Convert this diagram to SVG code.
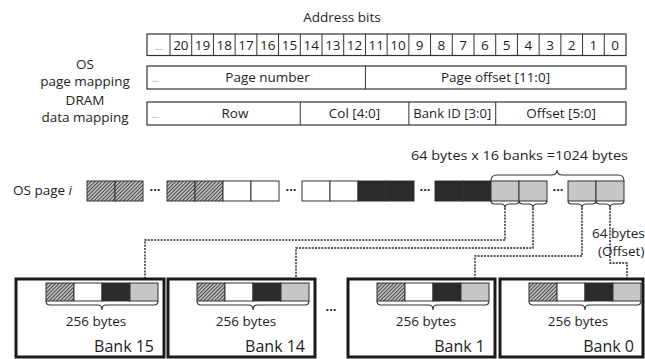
<svg xmlns="http://www.w3.org/2000/svg" width="645" height="359" viewBox="0 0 645 359">
<defs>
  <pattern id="hatch" patternUnits="userSpaceOnUse" width="2.6" height="2.6" patternTransform="rotate(45)">
    <rect width="2.6" height="2.6" fill="#bdbdbd"/>
    <line x1="0" y1="0" x2="0" y2="2.6" stroke="#1e1e1e" stroke-width="1.4"/>
  </pattern>
  <marker id="arr" viewBox="0 0 6 6" refX="3" refY="5" markerWidth="6" markerHeight="6" orient="auto-start-reverse" markerUnits="userSpaceOnUse">
    <path d="M0,0 L6,0 L3,6 Z" fill="#111"/>
  </marker>
  <style>
    text { font-family: "Open Sans", "Noto Sans", "DejaVu Sans", sans-serif; fill: #1e1e1e; }
    .t13 { font-size: 13.5px; }
    .mid { text-anchor: middle; }
    .end { text-anchor: end; }
    .box { fill: #fff; stroke: #333; stroke-width: 1.2; }
    .cell { stroke: #333; stroke-width: 1; }
    .h { fill: url(#hatch); }
    .w { fill: #fff; }
    .d { fill: #2b2b2b; }
    .g { fill: #c6c6c6; }
    .brace { fill: none; stroke: #333; stroke-width: 1.1; }
    .bank { fill: #fff; stroke: #1a1a1a; stroke-width: 3; }
    .dash { fill: none; stroke: #1e1e1e; stroke-width: 1.4; stroke-dasharray: 2 1.2; }
    .dots { font-size: 13px; font-weight: bold; }
    .small { font-size: 9px; fill: #777; }
    .bk { font-size: 16px; }
  </style>
</defs>

<g id="address-bits">
  <text class="t13 mid" x="342" y="22">Address bits</text>
  <rect class="box" x="147" y="34" width="479" height="21.5"/>
  <path class="cell" fill="none" d="M170,34V55.5 M191.71,34V55.5 M213.43,34V55.5 M235.14,34V55.5 M256.86,34V55.5 M278.57,34V55.5 M300.29,34V55.5 M322,34V55.5 M343.71,34V55.5 M365.43,34V55.5 M387.14,34V55.5 M408.86,34V55.5 M430.57,34V55.5 M452.29,34V55.5 M474,34V55.5 M495.71,34V55.5 M517.43,34V55.5 M539.14,34V55.5 M560.86,34V55.5 M582.57,34V55.5 M604.29,34V55.5"/>
  <g class="t13 mid">
    <text x="158.5" y="49.5" class="small">...</text>
    <text x="180.86" y="50">20</text>
    <text x="202.57" y="50">19</text>
    <text x="224.29" y="50">18</text>
    <text x="246" y="50">17</text>
    <text x="267.71" y="50">16</text>
    <text x="289.43" y="50">15</text>
    <text x="311.14" y="50">14</text>
    <text x="332.86" y="50">13</text>
    <text x="354.57" y="50">12</text>
    <text x="376.29" y="50">11</text>
    <text x="398" y="50">10</text>
    <text x="419.71" y="50">9</text>
    <text x="441.43" y="50">8</text>
    <text x="463.14" y="50">7</text>
    <text x="484.86" y="50">6</text>
    <text x="506.57" y="50">5</text>
    <text x="528.29" y="50">4</text>
    <text x="550" y="50">3</text>
    <text x="571.71" y="50">2</text>
    <text x="593.43" y="50">1</text>
    <text x="615.14" y="50">0</text>
  </g>
</g>

<g id="os-page-mapping">
  <text class="t13 mid" x="85" y="69">OS</text>
  <text class="t13 mid" x="85" y="86">page mapping</text>
  <rect class="box" x="147" y="66" width="479" height="23"/>
  <path class="cell" d="M365.43,66V89"/>
  <text class="small" x="152" y="82">...</text>
  <text class="t13 mid" x="267.5" y="82">Page number</text>
  <text class="t13 mid" x="495.5" y="82">Page offset [11:0]</text>
</g>

<g id="dram-data-mapping">
  <text class="t13 mid" x="85" y="105">DRAM</text>
  <text class="t13 mid" x="85" y="122">data mapping</text>
  <rect class="box" x="147" y="102" width="479" height="23"/>
  <path class="cell" d="M300.29,102V125 M408.86,102V125 M495.71,102V125"/>
  <text class="small" x="152" y="118">...</text>
  <text class="t13 mid" x="235" y="118">Row</text>
  <text class="t13 mid" x="354.5" y="118">Col [4:0]</text>
  <text class="t13 mid" x="452.3" y="118" textLength="78" lengthAdjust="spacingAndGlyphs">Bank ID [3:0]</text>
  <text class="t13 mid" x="561" y="118">Offset [5:0]</text>
</g>

<g id="os-page">
  <text class="t13" x="13" y="195">OS page <tspan font-style="italic">i</tspan></text>
  <g class="cell">
    <rect class="h" x="87" y="181" width="28" height="20"/>
    <rect class="h" x="115" y="181" width="28" height="20"/>
    <rect class="h" x="167" y="181" width="28" height="20"/>
    <rect class="h" x="195" y="181" width="28" height="20"/>
    <rect class="w" x="223" y="181" width="28" height="20"/>
    <rect class="w" x="251" y="181" width="28" height="20"/>
    <rect class="w" x="302" y="181" width="28" height="20"/>
    <rect class="w" x="330" y="181" width="28" height="20"/>
    <rect class="d" x="358" y="181" width="28" height="20"/>
    <rect class="d" x="386" y="181" width="28" height="20"/>
    <rect class="d" x="435" y="181" width="28" height="20"/>
    <rect class="d" x="463" y="181" width="28" height="20"/>
    <rect class="g" x="491" y="181" width="28" height="20"/>
    <rect class="g" x="519" y="181" width="28" height="20"/>
    <rect class="g" x="568" y="181" width="28" height="20"/>
    <rect class="g" x="596" y="181" width="28" height="20"/>
  </g>
  <g class="dots mid">
    <text x="155" y="194">···</text>
    <text x="291" y="194">···</text>
    <text x="425" y="194">···</text>
    <text x="558" y="194">···</text>
  </g>
  <text class="t13 mid" x="519.5" y="160" textLength="217" lengthAdjust="spacingAndGlyphs">64 bytes x 16 banks =1024 bytes</text>
  <path class="brace" d="M491,181 Q491,175 497,175 L551,175 Q557,175 557,170 Q557,175 563,175 L618,175 Q624,175 624,181"/>
  <path class="brace" d="M491,201 Q491,204 495,204 L501,204 Q505,204 505,208 Q505,204 509,204 L515,204 Q519,204 519,201"/>
  <path class="brace" d="M519,201 Q519,204 523,204 L529,204 Q533,204 533,208 Q533,204 537,204 L543,204 Q547,204 547,201"/>
  <path class="brace" d="M568,201 Q568,204 572,204 L578,204 Q582,204 582,208 Q582,204 586,204 L592,204 Q596,204 596,201"/>
  <path class="brace" d="M596,201 Q596,204 600,204 L606,204 Q610,204 610,208 Q610,204 614,204 L620,204 Q624,204 624,201"/>
  <text class="t13" x="592" y="238">64 bytes</text>
  <text class="t13" x="598" y="256">(Offset)</text>
</g>

<g id="connectors">
  <path class="dash" d="M505,208 V240 H145 V281" marker-end="url(#arr)"/>
  <path class="dash" d="M533,208 V248 H296 V281" marker-end="url(#arr)"/>
  <path class="dash" d="M582,208 V256 H475 V281" marker-end="url(#arr)"/>
  <path class="dash" d="M610,208 V263 H627 V281" marker-end="url(#arr)"/>
</g>

<g id="bank15">
  <rect class="bank" x="16" y="279" width="148" height="78"/>
  <g class="cell">
    <rect class="h" x="46" y="283" width="28" height="18"/>
    <rect class="w" x="74" y="283" width="28" height="18"/>
    <rect class="d" x="102" y="283" width="28" height="18"/>
    <rect class="g" x="130" y="283" width="28" height="18"/>
  </g>
  <path class="brace" d="M46,301 Q46,305 50,305 L98,305 Q102,305 102,310 Q102,305 106,305 L154,305 Q158,305 158,301"/>
  <text class="t13 mid" x="96" y="326">256 bytes</text>
  <text class="end bk" x="154" y="352">Bank 15</text>
</g>

<g id="bank14">
  <rect class="bank" x="168" y="279" width="147" height="78"/>
  <g class="cell">
    <rect class="h" x="197" y="283" width="28" height="18"/>
    <rect class="w" x="225" y="283" width="28" height="18"/>
    <rect class="d" x="253" y="283" width="28" height="18"/>
    <rect class="g" x="281" y="283" width="28" height="18"/>
  </g>
  <path class="brace" d="M197,301 Q197,305 201,305 L249,305 Q253,305 253,310 Q253,305 257,305 L305,305 Q309,305 309,301"/>
  <text class="t13 mid" x="246" y="326">256 bytes</text>
  <text class="end bk" x="305" y="352">Bank 14</text>
</g>

<text class="dots mid" x="331" y="314">···</text>

<g id="bank1">
  <rect class="bank" x="348" y="279" width="147" height="78"/>
  <g class="cell">
    <rect class="h" x="377" y="283" width="28" height="18"/>
    <rect class="w" x="405" y="283" width="28" height="18"/>
    <rect class="d" x="433" y="283" width="28" height="18"/>
    <rect class="g" x="461" y="283" width="28" height="18"/>
  </g>
  <path class="brace" d="M377,301 Q377,305 381,305 L429,305 Q433,305 433,310 Q433,305 437,305 L485,305 Q489,305 489,301"/>
  <text class="t13 mid" x="426" y="326">256 bytes</text>
  <text class="end bk" x="485" y="352">Bank 1</text>
</g>

<g id="bank0">
  <rect class="bank" x="500" y="279" width="143" height="78"/>
  <g class="cell">
    <rect class="h" x="529" y="283" width="28" height="18"/>
    <rect class="w" x="557" y="283" width="28" height="18"/>
    <rect class="d" x="585" y="283" width="28" height="18"/>
    <rect class="g" x="613" y="283" width="28" height="18"/>
  </g>
  <path class="brace" d="M529,301 Q529,305 533,305 L581,305 Q585,305 585,310 Q585,305 589,305 L637,305 Q641,305 641,301"/>
  <text class="t13 mid" x="578" y="326">256 bytes</text>
  <text class="end bk" x="634" y="352">Bank 0</text>
</g>
</svg>
